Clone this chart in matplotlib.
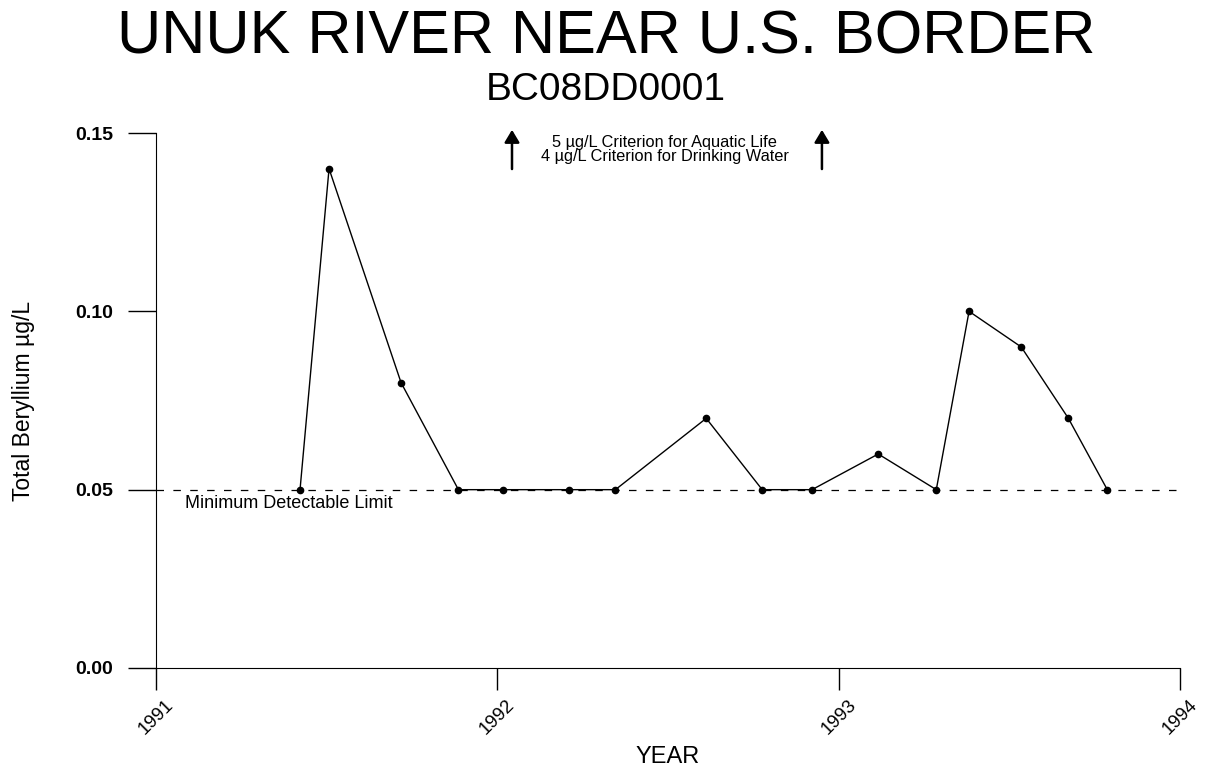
import numpy as np
import matplotlib.pyplot as plt

plt.rcParams['font.family'] = ['Liberation Sans', 'DejaVu Sans']

# sampling dates (decimal year) and total beryllium (ug/L)
year = [1991.422, 1991.507, 1991.718, 1991.886, 1992.018, 1992.211, 1992.346,
        1992.612, 1992.776, 1992.922, 1993.116, 1993.286, 1993.382, 1993.535,
        1993.673, 1993.787]
beryllium = [0.05, 0.14, 0.08, 0.05, 0.05, 0.05, 0.05,
             0.07, 0.05, 0.05, 0.06, 0.05, 0.10, 0.09,
             0.07, 0.05]
detect_limit = 0.05
year_ticks = [1991, 1992, 1993, 1994]
conc_ticks = [0.00, 0.05, 0.10, 0.15]

fig = plt.figure(figsize=(12.12, 7.77), dpi=100)
ax = fig.add_axes([0.1287, 0.1403, 0.8449, 0.6885])

ax.plot(year, beryllium, color='black', lw=1, marker='o', ms=4.5)
ax.axhline(detect_limit, color='black', lw=0.9, ls=(0, (6, 7.5)))
ax.text(1991.085, detect_limit - 0.0015, 'Minimum Detectable Limit',
        fontsize=13, va='top', ha='left')

ax.set_xlim(1991, 1994)
ax.set_ylim(0, 0.15)
ax.set_xticks(year_ticks)
ax.set_xticklabels([str(y) for y in year_ticks], rotation=45, ha='center',
                   va='top', fontsize=13.5)
ax.set_yticks(conc_ticks)
ax.set_yticklabels(['%.2f' % v for v in conc_ticks], fontsize=14,
                   fontweight='bold')
ax.tick_params(axis='x', direction='out', length=15.5, width=1, pad=5)
ax.tick_params(axis='y', direction='out', length=20, width=1, pad=11)
for s in ['top', 'right']:
    ax.spines[s].set_visible(False)

ax.set_xlabel('YEAR', fontsize=17, labelpad=6)
ax.set_ylabel('Total Beryllium µg/L', fontsize=16.5)
ax.yaxis.set_label_coords(-0.118, 0.5)

# criteria far above the plotted range
ax.text(1992.49, 0.1461, '5 µg/L Criterion for Aquatic Life',
        ha='center', va='baseline', fontsize=11.8)
ax.text(1992.49, 0.1422, '4 µg/L Criterion for Drinking Water',
        ha='center', va='baseline', fontsize=11.8)
for xa in [1992.043, 1992.951]:
    ax.annotate('', xy=(xa, 0.1509), xytext=(xa, 0.1399),
                annotation_clip=False,
                arrowprops=dict(arrowstyle='-|>,head_length=0.75,head_width=0.45',
                                color='black', lw=1.8, mutation_scale=10,
                                shrinkA=0, shrinkB=0))

fig.text(0.5, 0.931, 'UNUK RIVER NEAR U.S. BORDER', ha='center',
         va='baseline', fontsize=44)
fig.text(0.5, 0.871, 'BC08DD0001', ha='center', va='baseline', fontsize=28)

fig.savefig('out.png', dpi=100)
